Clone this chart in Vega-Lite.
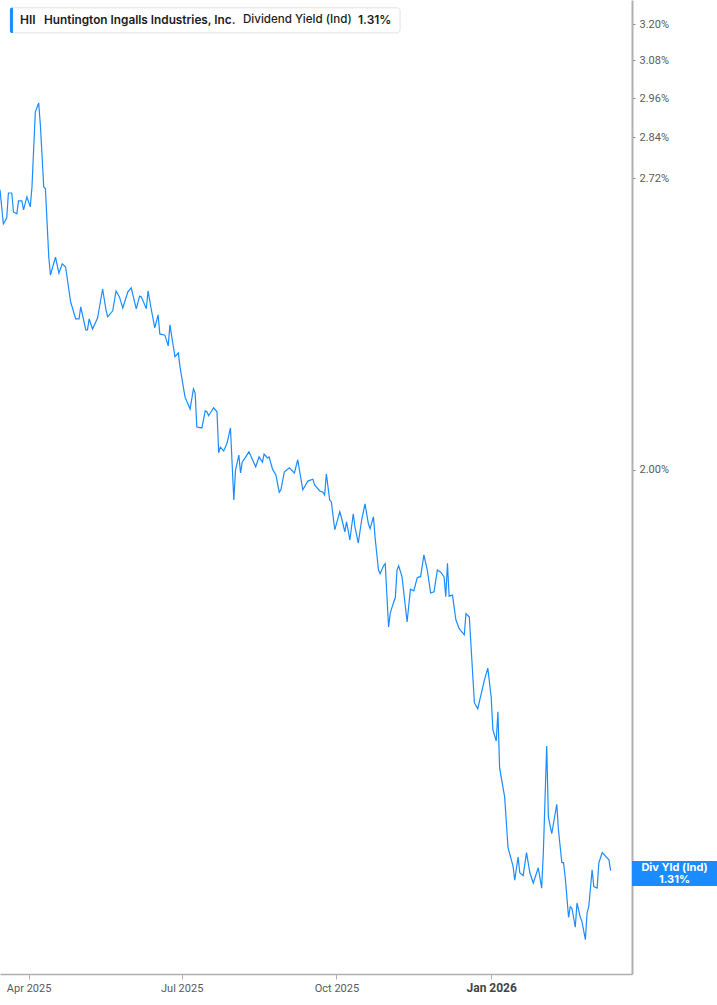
{
  "$schema": "https://vega.github.io/schema/vega-lite/v6.json",
  "width": 632,
  "height": 974,
  "autosize": {"type": "none"},
  "padding": {"left": 0, "top": 0, "right": 85, "bottom": 31},
  "background": "white",
  "config": {"view": {"stroke": null}, "font": "Roboto"},
  "layer": [
    {
      "data": {"values": [
        {"date": "2025-03-15", "yield": 2.687}, {"date": "2025-03-17", "yield": 2.592}, {"date": "2025-03-19", "yield": 2.608}, {"date": "2025-03-20", "yield": 2.678}, {"date": "2025-03-22", "yield": 2.678}, {"date": "2025-03-23", "yield": 2.625}, {"date": "2025-03-25", "yield": 2.620}, {"date": "2025-03-26", "yield": 2.656}, {"date": "2025-03-28", "yield": 2.656}, {"date": "2025-03-29", "yield": 2.631}, {"date": "2025-03-31", "yield": 2.667},
        {"date": "2025-04-02", "yield": 2.639}, {"date": "2025-04-03", "yield": 2.695}, {"date": "2025-04-05", "yield": 2.917}, {"date": "2025-04-07", "yield": 2.945}, {"date": "2025-04-08", "yield": 2.877}, {"date": "2025-04-10", "yield": 2.695}, {"date": "2025-04-11", "yield": 2.690}, {"date": "2025-04-13", "yield": 2.503}, {"date": "2025-04-14", "yield": 2.456}, {"date": "2025-04-17", "yield": 2.503}, {"date": "2025-04-19", "yield": 2.461}, {"date": "2025-04-21", "yield": 2.485}, {"date": "2025-04-23", "yield": 2.477}, {"date": "2025-04-26", "yield": 2.387}, {"date": "2025-04-29", "yield": 2.345},
        {"date": "2025-05-01", "yield": 2.345}, {"date": "2025-05-02", "yield": 2.375}, {"date": "2025-05-05", "yield": 2.318}, {"date": "2025-05-06", "yield": 2.318}, {"date": "2025-05-07", "yield": 2.345}, {"date": "2025-05-09", "yield": 2.320}, {"date": "2025-05-12", "yield": 2.347}, {"date": "2025-05-15", "yield": 2.420}, {"date": "2025-05-17", "yield": 2.367}, {"date": "2025-05-18", "yield": 2.350}, {"date": "2025-05-21", "yield": 2.365}, {"date": "2025-05-23", "yield": 2.415}, {"date": "2025-05-25", "yield": 2.400}, {"date": "2025-05-27", "yield": 2.372}, {"date": "2025-05-30", "yield": 2.413},
        {"date": "2025-06-01", "yield": 2.423}, {"date": "2025-06-04", "yield": 2.370}, {"date": "2025-06-06", "yield": 2.402}, {"date": "2025-06-07", "yield": 2.400}, {"date": "2025-06-10", "yield": 2.370}, {"date": "2025-06-11", "yield": 2.415}, {"date": "2025-06-13", "yield": 2.367}, {"date": "2025-06-15", "yield": 2.323}, {"date": "2025-06-17", "yield": 2.355}, {"date": "2025-06-18", "yield": 2.308}, {"date": "2025-06-21", "yield": 2.305}, {"date": "2025-06-23", "yield": 2.279}, {"date": "2025-06-24", "yield": 2.330}, {"date": "2025-06-27", "yield": 2.253}, {"date": "2025-06-29", "yield": 2.262}, {"date": "2025-06-30", "yield": 2.229},
        {"date": "2025-07-03", "yield": 2.159}, {"date": "2025-07-06", "yield": 2.132}, {"date": "2025-07-08", "yield": 2.178}, {"date": "2025-07-09", "yield": 2.169}, {"date": "2025-07-10", "yield": 2.092}, {"date": "2025-07-13", "yield": 2.090}, {"date": "2025-07-15", "yield": 2.128}, {"date": "2025-07-16", "yield": 2.126}, {"date": "2025-07-17", "yield": 2.117}, {"date": "2025-07-20", "yield": 2.135}, {"date": "2025-07-22", "yield": 2.126}, {"date": "2025-07-23", "yield": 2.036}, {"date": "2025-07-24", "yield": 2.048}, {"date": "2025-07-26", "yield": 2.040}, {"date": "2025-07-28", "yield": 2.057}, {"date": "2025-07-30", "yield": 2.090},
        {"date": "2025-08-01", "yield": 1.937}, {"date": "2025-08-02", "yield": 1.999}, {"date": "2025-08-04", "yield": 2.031}, {"date": "2025-08-05", "yield": 1.993}, {"date": "2025-08-06", "yield": 2.016}, {"date": "2025-08-10", "yield": 2.038}, {"date": "2025-08-14", "yield": 2.006}, {"date": "2025-08-16", "yield": 2.027}, {"date": "2025-08-18", "yield": 2.016}, {"date": "2025-08-19", "yield": 2.033}, {"date": "2025-08-21", "yield": 2.025}, {"date": "2025-08-22", "yield": 2.027}, {"date": "2025-08-24", "yield": 2.001}, {"date": "2025-08-26", "yield": 1.989}, {"date": "2025-08-28", "yield": 1.953}, {"date": "2025-08-29", "yield": 1.958}, {"date": "2025-08-31", "yield": 1.995},
        {"date": "2025-09-03", "yield": 2.004}, {"date": "2025-09-06", "yield": 1.993}, {"date": "2025-09-08", "yield": 2.021}, {"date": "2025-09-11", "yield": 1.958}, {"date": "2025-09-14", "yield": 1.976}, {"date": "2025-09-17", "yield": 1.980}, {"date": "2025-09-18", "yield": 1.968}, {"date": "2025-09-21", "yield": 1.956}, {"date": "2025-09-23", "yield": 1.953}, {"date": "2025-09-24", "yield": 1.947}, {"date": "2025-09-25", "yield": 1.991}, {"date": "2025-09-27", "yield": 1.937}, {"date": "2025-09-28", "yield": 1.933}, {"date": "2025-09-30", "yield": 1.877},
        {"date": "2025-10-03", "yield": 1.913}, {"date": "2025-10-04", "yield": 1.901}, {"date": "2025-10-06", "yield": 1.873}, {"date": "2025-10-07", "yield": 1.893}, {"date": "2025-10-09", "yield": 1.857}, {"date": "2025-10-11", "yield": 1.909}, {"date": "2025-10-12", "yield": 1.883}, {"date": "2025-10-14", "yield": 1.851}, {"date": "2025-10-16", "yield": 1.897}, {"date": "2025-10-18", "yield": 1.929}, {"date": "2025-10-20", "yield": 1.889}, {"date": "2025-10-21", "yield": 1.879}, {"date": "2025-10-23", "yield": 1.903}, {"date": "2025-10-24", "yield": 1.861}, {"date": "2025-10-26", "yield": 1.799}, {"date": "2025-10-27", "yield": 1.792}, {"date": "2025-10-29", "yield": 1.807}, {"date": "2025-10-30", "yield": 1.811},
        {"date": "2025-11-01", "yield": 1.694}, {"date": "2025-11-02", "yield": 1.719}, {"date": "2025-11-04", "yield": 1.739}, {"date": "2025-11-05", "yield": 1.747}, {"date": "2025-11-06", "yield": 1.799}, {"date": "2025-11-07", "yield": 1.807}, {"date": "2025-11-09", "yield": 1.786}, {"date": "2025-11-12", "yield": 1.703}, {"date": "2025-11-14", "yield": 1.763}, {"date": "2025-11-16", "yield": 1.760}, {"date": "2025-11-18", "yield": 1.784}, {"date": "2025-11-19", "yield": 1.786}, {"date": "2025-11-20", "yield": 1.786}, {"date": "2025-11-22", "yield": 1.828}, {"date": "2025-11-24", "yield": 1.799}, {"date": "2025-11-26", "yield": 1.756}, {"date": "2025-11-28", "yield": 1.758}, {"date": "2025-11-30", "yield": 1.799},
        {"date": "2025-12-02", "yield": 1.795}, {"date": "2025-12-04", "yield": 1.786}, {"date": "2025-12-05", "yield": 1.749}, {"date": "2025-12-06", "yield": 1.812}, {"date": "2025-12-07", "yield": 1.750}, {"date": "2025-12-09", "yield": 1.752}, {"date": "2025-12-11", "yield": 1.707}, {"date": "2025-12-13", "yield": 1.691}, {"date": "2025-12-14", "yield": 1.687}, {"date": "2025-12-16", "yield": 1.680}, {"date": "2025-12-17", "yield": 1.718}, {"date": "2025-12-19", "yield": 1.712}, {"date": "2025-12-22", "yield": 1.564}, {"date": "2025-12-24", "yield": 1.554}, {"date": "2025-12-28", "yield": 1.602}, {"date": "2025-12-30", "yield": 1.622},
        {"date": "2026-01-01", "yield": 1.573}, {"date": "2026-01-02", "yield": 1.520}, {"date": "2026-01-04", "yield": 1.502}, {"date": "2026-01-05", "yield": 1.549}, {"date": "2026-01-06", "yield": 1.460}, {"date": "2026-01-09", "yield": 1.416}, {"date": "2026-01-11", "yield": 1.342}, {"date": "2026-01-13", "yield": 1.325}, {"date": "2026-01-14", "yield": 1.316}, {"date": "2026-01-15", "yield": 1.297}, {"date": "2026-01-17", "yield": 1.329}, {"date": "2026-01-18", "yield": 1.307}, {"date": "2026-01-20", "yield": 1.303}, {"date": "2026-01-22", "yield": 1.335}, {"date": "2026-01-24", "yield": 1.307}, {"date": "2026-01-26", "yield": 1.293}, {"date": "2026-01-29", "yield": 1.314}, {"date": "2026-01-31", "yield": 1.286},
        {"date": "2026-02-01", "yield": 1.335}, {"date": "2026-02-03", "yield": 1.494}, {"date": "2026-02-04", "yield": 1.386}, {"date": "2026-02-06", "yield": 1.362}, {"date": "2026-02-09", "yield": 1.405}, {"date": "2026-02-10", "yield": 1.367}, {"date": "2026-02-12", "yield": 1.321}, {"date": "2026-02-13", "yield": 1.321}, {"date": "2026-02-14", "yield": 1.301}, {"date": "2026-02-16", "yield": 1.247}, {"date": "2026-02-17", "yield": 1.261}, {"date": "2026-02-18", "yield": 1.259}, {"date": "2026-02-20", "yield": 1.234}, {"date": "2026-02-21", "yield": 1.266}, {"date": "2026-02-23", "yield": 1.247}, {"date": "2026-02-24", "yield": 1.241}, {"date": "2026-02-26", "yield": 1.218}, {"date": "2026-02-27", "yield": 1.253}, {"date": "2026-02-28", "yield": 1.261},
        {"date": "2026-03-02", "yield": 1.311}, {"date": "2026-03-03", "yield": 1.288}, {"date": "2026-03-05", "yield": 1.286}, {"date": "2026-03-06", "yield": 1.321}, {"date": "2026-03-08", "yield": 1.335}, {"date": "2026-03-12", "yield": 1.325}, {"date": "2026-03-13", "yield": 1.310}
      ]},
      "mark": {"type": "line", "color": "#1a8cff", "strokeWidth": 1.2},
      "encoding": {
        "x": {
          "field": "date", "type": "temporal",
          "scale": {"type": "utc", "nice": false, "domain": [
            {"year": 2025, "month": 3, "date": 15, "utc": true},
            {"year": 2026, "month": 3, "date": 25, "hours": 17, "utc": true}
          ]},
          "axis": {
            "title": null, "grid": false,
            "values": [
              {"year": 2025, "month": 4, "date": 1, "utc": true},
              {"year": 2025, "month": 7, "date": 1, "utc": true},
              {"year": 2025, "month": 10, "date": 1, "utc": true},
              {"year": 2026, "month": 1, "date": 1, "utc": true}
            ],
            "labelExpr": "utcFormat(datum.value, '%b %Y')",
            "domainColor": "#b0b0b0", "domainWidth": 1.5,
            "tickColor": "#b0b0b0", "tickSize": 5, "tickWidth": 1,
            "labelPadding": 3, "labelFont": "Roboto",
            "labelFontSize": {"expr": "utcmonth(datum.value) == 0 ? 12 : 11"},
            "labelFontWeight": {"expr": "utcmonth(datum.value) == 0 ? 'bold' : 'normal'"},
            "labelColor": {"expr": "utcmonth(datum.value) == 0 ? '#444444' : '#5a5a5a'"}
          }
        },
        "y": {
          "field": "yield", "type": "quantitative",
          "scale": {"type": "log", "nice": false, "domain": [1.1746, 3.283]},
          "axis": {
            "orient": "right", "title": null, "grid": false,
            "values": [2.0, 2.72, 2.84, 2.96, 3.08, 3.2],
            "labelExpr": "format(datum.value, '.2f') + '%'",
            "domainColor": "#b0b0b0", "domainWidth": 2,
            "tickColor": "#888888", "tickSize": 3,
            "labelPadding": 4, "labelFont": "Roboto", "labelFontSize": 11,
            "labelColor": "#5a5a5a"
          }
        }
      }
    },
    {
      "data": {"values": [{}]},
      "mark": {"type": "rect", "fill": "white", "stroke": "#e2e2e2", "strokeWidth": 1, "cornerRadius": 3, "clip": false},
      "encoding": {
        "x": {"datum": {"year": 2025, "month": 3, "date": 20, "hours": 23, "utc": true}, "type": "temporal"},
        "x2": {"datum": {"year": 2025, "month": 11, "date": 7, "hours": 19, "utc": true}},
        "y": {"datum": 3.256, "type": "quantitative"},
        "y2": {"datum": 3.171}
      }
    },
    {
      "data": {"values": [{}]},
      "mark": {"type": "rect", "fill": "#1a8cff", "cornerRadiusTopLeft": 2, "cornerRadiusBottomLeft": 2, "clip": false},
      "encoding": {
        "x": {"datum": {"year": 2025, "month": 3, "date": 20, "hours": 23, "utc": true}, "type": "temporal"},
        "x2": {"datum": {"year": 2025, "month": 3, "date": 22, "hours": 17, "utc": true}},
        "y": {"datum": 3.256, "type": "quantitative"},
        "y2": {"datum": 3.171}
      }
    },
    {
      "data": {"values": [{}]},
      "mark": {"type": "text", "text": "HII", "align": "left", "baseline": "middle", "font": "Inter", "fontSize": 12, "fontWeight": 600, "color": "#1c1c1c", "clip": false},
      "encoding": {
        "x": {"datum": {"year": 2025, "month": 3, "date": 26, "hours": 21, "utc": true}, "type": "temporal"},
        "y": {"datum": 3.213, "type": "quantitative"}
      }
    },
    {
      "data": {"values": [{}]},
      "mark": {"type": "text", "text": "Huntington Ingalls Industries, Inc.", "align": "left", "baseline": "middle", "font": "Inter", "fontSize": 11.8, "fontWeight": 600, "color": "#1c1c1c", "clip": false},
      "encoding": {
        "x": {"datum": {"year": 2025, "month": 4, "date": 10, "hours": 4, "utc": true}, "type": "temporal"},
        "y": {"datum": 3.213, "type": "quantitative"}
      }
    },
    {
      "data": {"values": [{}]},
      "mark": {"type": "text", "text": "Dividend Yield (Ind)", "align": "left", "baseline": "middle", "font": "Inter", "fontSize": 11.6, "fontWeight": 500, "color": "#1c1c1c", "clip": false},
      "encoding": {
        "x": {"datum": {"year": 2025, "month": 8, "date": 6, "hours": 11, "utc": true}, "type": "temporal"},
        "y": {"datum": 3.213, "type": "quantitative"}
      }
    },
    {
      "data": {"values": [{}]},
      "mark": {"type": "text", "text": "1.31%", "align": "left", "baseline": "middle", "font": "Inter", "fontSize": 12, "fontWeight": 600, "color": "#1c1c1c", "clip": false},
      "encoding": {
        "x": {"datum": {"year": 2025, "month": 10, "date": 13, "hours": 20, "utc": true}, "type": "temporal"},
        "y": {"datum": 3.213, "type": "quantitative"}
      }
    },
    {
      "data": {"values": [{}]},
      "mark": {"type": "rect", "fill": "#1a8cff", "clip": false},
      "encoding": {
        "x": {"datum": {"year": 2026, "month": 3, "date": 25, "hours": 17, "utc": true}, "type": "temporal"},
        "x2": {"datum": {"year": 2026, "month": 5, "date": 15, "hours": 8, "utc": true}},
        "y": {"datum": 1.3234, "type": "quantitative"},
        "y2": {"datum": 1.2890}
      }
    },
    {
      "data": {"values": [{}]},
      "mark": {"type": "text", "text": ["Div Yld (Ind)", "1.31%"], "lineHeight": 12, "dy": -6, "align": "center", "baseline": "middle", "font": "Inter", "fontSize": 11, "fontWeight": 700, "color": "white", "clip": false},
      "encoding": {
        "x": {"datum": {"year": 2026, "month": 4, "date": 20, "utc": true}, "type": "temporal"},
        "y": {"datum": 1.306, "type": "quantitative"}
      }
    }
  ]
}
